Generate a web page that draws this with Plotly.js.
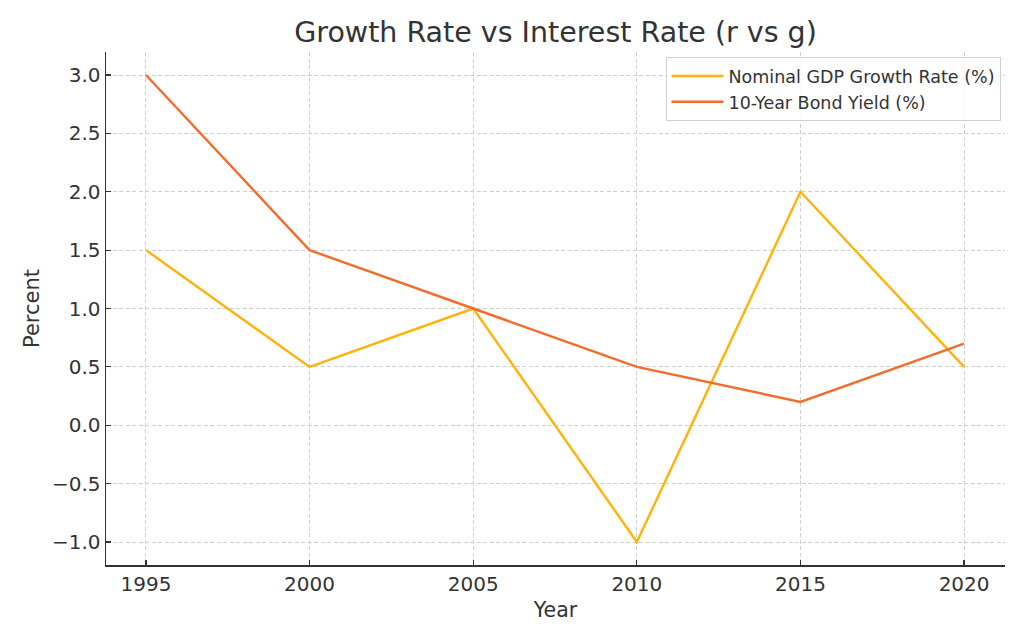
<!DOCTYPE html>
<html>
<head>
<meta charset="utf-8">
<script src="https://cdn.plot.ly/plotly-3.0.1.min.js"></script>
<style>html,body{margin:0;padding:0;background:#fff;}#chart{width:1024px;height:640px;}</style>
</head>
<body>
<div id="chart"></div>
<script>
const years = [1995, 2000, 2005, 2010, 2015, 2020];
const gdpGrowth = [1.5, 0.5, 1.0, -1.0, 2.0, 0.5];
const bondYield = [3.0, 1.5, 1.0, 0.5, 0.2, 0.7];
const yTicks = [-1.0, -0.5, 0.0, 0.5, 1.0, 1.5, 2.0, 2.5, 3.0];

const font = "DejaVu Sans, sans-serif";
const traces = [
  {x: years, y: gdpGrowth, type: 'scatter', mode: 'lines', name: 'Nominal GDP Growth Rate (%)',
   line: {color: '#FFB20A', width: 2.4}},
  {x: years, y: bondYield, type: 'scatter', mode: 'lines', name: '10-Year Bond Yield (%)',
   line: {color: '#F26D2C', width: 2.4}}
];
const layout = {
  width: 1024, height: 640,
  margin: {l: 106, r: 19, t: 52, b: 75},
  paper_bgcolor: '#fff', plot_bgcolor: '#fff',
  font: {family: font, color: '#333'},
  title: {text: 'Growth Rate vs Interest Rate (r vs g)', font: {size: 28.5, color: '#333', family: font},
    xref: 'paper', x: 0.5, xanchor: 'center', yref: 'container', y: 1 - 32/640, yanchor: 'middle'},
  xaxis: {
    range: [1993.78, 2021.25], tickvals: years, ticktext: years.map(String),
    showline: true, linecolor: '#333', linewidth: 1.5, mirror: false,
    ticks: 'inside', ticklen: 5, tickwidth: 1.2, tickcolor: '#333',
    showgrid: true, gridcolor: '#d0d0d0', griddash: '4px,2.5px', gridwidth: 1,
    zeroline: false, tickfont: {size: 20, color: '#333'},
    title: {text: 'Year', font: {size: 20.5, color: '#333'}, standoff: 8}
  },
  yaxis: {
    range: [-1.197, 3.197], tickvals: yTicks, ticktext: yTicks.map(v => (v < 0 ? '\u2212' : '') + Math.abs(v).toFixed(1)),
    showline: true, linecolor: '#333', linewidth: 1.5, mirror: false,
    ticks: 'inside', ticklen: 5, tickwidth: 1.2, tickcolor: '#333',
    showgrid: true, gridcolor: '#d0d0d0', griddash: '4px,2.5px', gridwidth: 1,
    zeroline: false, tickfont: {size: 20, color: '#333'},
    title: {text: 'Percent', font: {size: 21, color: '#333'}, standoff: 6}
  },
  legend: {x: 0.995, y: 0.99, xanchor: 'right', yanchor: 'top',
    bgcolor: 'rgba(255,255,255,0.85)', bordercolor: '#d0d0d0', borderwidth: 1,
    font: {size: 17.5, color: '#333'}, tracegroupgap: 0, itemwidth: 52},
  showlegend: true
};
Plotly.newPlot('chart', traces, layout, {displayModeBar: false, staticPlot: true});
</script>
</body>
</html>
